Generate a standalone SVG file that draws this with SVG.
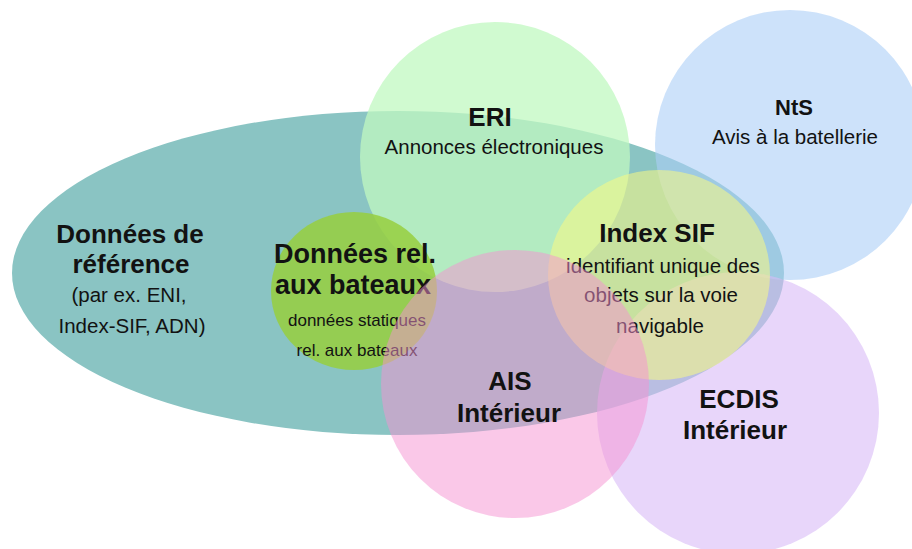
<svg xmlns="http://www.w3.org/2000/svg" width="912" height="549" viewBox="0 0 912 549">
<style>
text{font-family:"Liberation Sans",Arial,sans-serif;fill:#121212;text-anchor:middle}
.h{font-weight:bold;font-size:26px}
.h27{font-weight:bold;font-size:27px}
.s{font-size:20.5px}
.xs{font-size:17px}
</style>
<rect width="912" height="549" fill="#ffffff"/>
<g id="donnees-reference">
<ellipse cx="398" cy="273" rx="386" ry="162" fill="#8AC4C3"/>
<text class="h" x="130" y="243" font-size="26.5">Données de</text>
<text class="h" x="131" y="273" font-size="26.5">référence</text>
<text class="s" x="129" y="302">(par ex. ENI,</text>
<text class="s" x="132" y="333">Index-SIF, ADN)</text>
</g>
<g id="nts">
<circle cx="790" cy="145" r="135" fill="rgb(172,207,247)" opacity="0.6"/>
<text class="h" x="794" y="115" style="font-size:22px">NtS</text>
<text class="s" x="795" y="144">Avis à la batellerie</text>
</g>
<g id="eri">
<circle cx="495" cy="157" r="135" fill="rgb(192,248,192)" opacity="0.75"/>
<text class="h" x="490" y="126">ERI</text>
<text class="s" x="494" y="154">Annonces électroniques</text>
</g>
<g id="ecdis">
<circle cx="738" cy="413" r="141" fill="rgb(217,187,247)" opacity="0.6"/>
<text class="h" x="739" y="408">ECDIS</text>
<text class="h" x="735" y="439">Intérieur</text>
</g>
<g id="index-sif">
<ellipse cx="659" cy="275" rx="111" ry="105" fill="rgb(250,250,130)" opacity="0.55"/>
<text class="h" x="657" y="242">Index SIF</text>
<text class="s" x="663" y="273">identifiant unique des</text>
<text class="s" x="661" y="302">objets sur la voie</text>
<text class="s" x="660" y="333">navigable</text>
</g>
<g id="donnees-bateaux">
<ellipse cx="354" cy="291" rx="83" ry="79" fill="rgb(150,207,62)" opacity="0.85"/>
<text class="h27" x="355" y="263">Données rel.</text>
<text class="h27" x="353" y="294">aux bateaux</text>
<text class="xs" x="357" y="326">données statiques</text>
<text class="xs" x="357" y="356">rel. aux bateaux</text>
</g>
<g id="ais">
<circle cx="515" cy="384" r="134" fill="rgb(245,145,209)" opacity="0.5"/>
<text class="h" x="510" y="390">AIS</text>
<text class="h" x="509" y="422">Intérieur</text>
</g>
<g id="connectors"/>
</svg>
